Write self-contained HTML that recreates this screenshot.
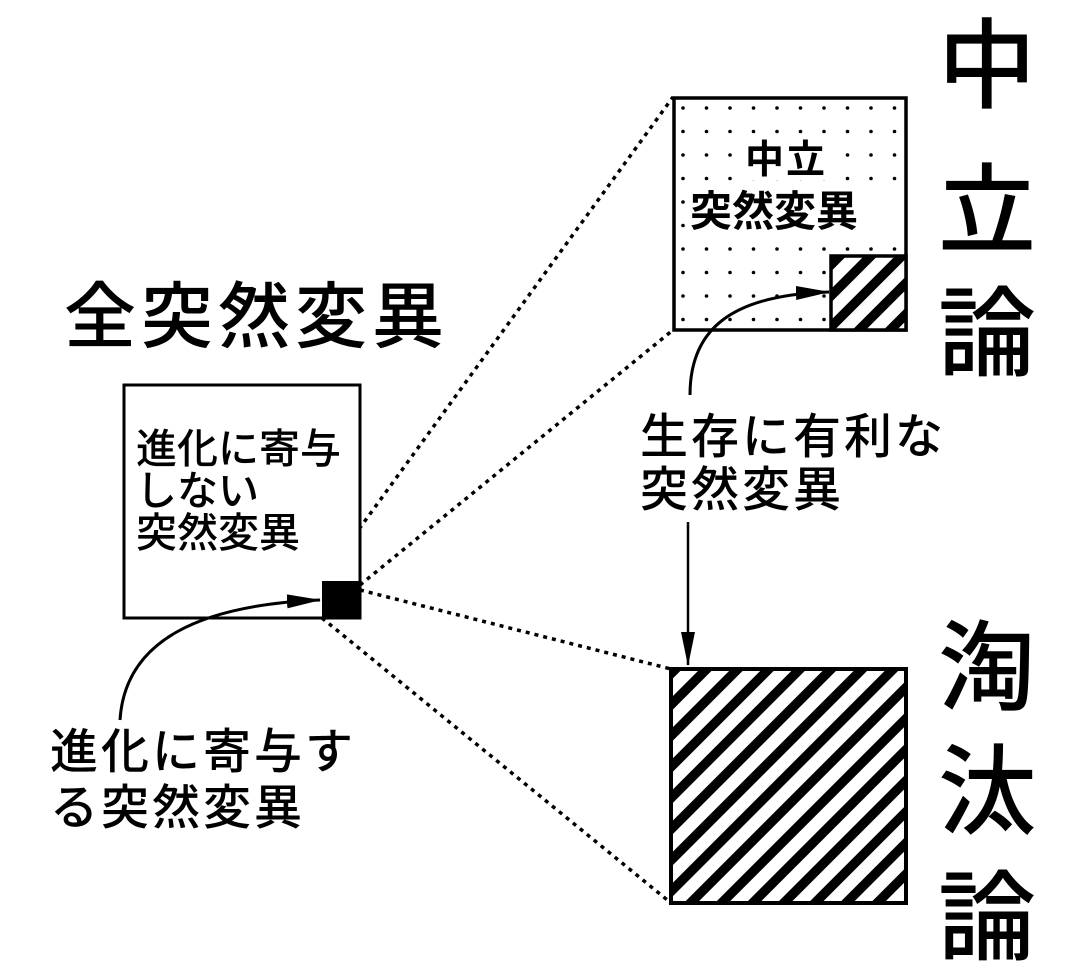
<!DOCTYPE html>
<html><head><meta charset="utf-8"><style>
html,body{margin:0;padding:0;background:#fff;}
svg text{font-family:"Liberation Sans","Noto Sans CJK JP",sans-serif;font-weight:500;fill:#000;}
</style></head><body>
<svg width="1065" height="975" viewBox="0 0 1065 975" xmlns="http://www.w3.org/2000/svg">
<defs>
<pattern id="h" patternUnits="userSpaceOnUse" width="22" height="22" patternTransform="rotate(45)">
<rect x="0" y="0" width="9.5" height="22" fill="#000"/>
</pattern>
<pattern id="d" patternUnits="userSpaceOnUse" x="680" y="105" width="23.5" height="23.5">
<circle cx="3" cy="3" r="1.8" fill="#000"/>
</pattern>
<marker id="a2" markerWidth="34" markerHeight="14" refX="33" refY="7" orient="auto" markerUnits="userSpaceOnUse">
<path d="M0,0 L34,7 L0,14 Z" fill="#000"/>
</marker>
</defs>
<g stroke="#000" stroke-width="3.5" stroke-dasharray="4,5" fill="none">
<line x1="322" y1="580" x2="673" y2="97"/>
<line x1="360" y1="585" x2="673" y2="330"/>
<line x1="360" y1="590" x2="671" y2="669"/>
<line x1="322" y1="618" x2="671" y2="903"/>
</g>
<rect x="124" y="385" width="236" height="233" fill="#fff" stroke="#000" stroke-width="3"/>
<rect x="322" y="581" width="38" height="37" fill="#000"/>
<rect x="674" y="98" width="232" height="232" fill="url(#d)" stroke="#000" stroke-width="3.5"/>
<rect x="738" y="135" width="90" height="45" fill="#fff"/>
<rect x="690" y="185" width="212" height="48" fill="#fff"/>
<rect x="831" y="256" width="75" height="74" fill="#fff"/>
<rect x="831" y="256" width="75" height="74" fill="url(#h)" stroke="#000" stroke-width="3.5"/>
<rect x="671" y="669" width="235" height="234" fill="url(#h)" stroke="#000" stroke-width="4"/>
<path d="M120 720 C125 640 200 605 320 600" stroke="#000" stroke-width="3" fill="none" marker-end="url(#a2)"/>
<path d="M690 395 C690 330 730 295 829 292" stroke="#000" stroke-width="3" fill="none" marker-end="url(#a2)"/>
<line x1="688" y1="522" x2="688" y2="665" stroke="#000" stroke-width="2.5" marker-end="url(#a2)"/>
<text x="64" y="342" font-size="72" letter-spacing="5">全突然変異</text>
<text x="136" y="463" font-size="41">進化に寄与</text>
<text x="136" y="505" font-size="41">しない</text>
<text x="136" y="547" font-size="41">突然変異</text>
<text x="745" y="173" font-size="39" letter-spacing="2" style="font-weight:bold">中立</text>
<text x="690" y="226" font-size="42" style="font-weight:bold">突然変異</text>
<text x="640" y="453" font-size="48" letter-spacing="3">生存に有利な</text>
<text x="640" y="506" font-size="48" letter-spacing="3">突然変異</text>
<text x="50" y="768" font-size="48" letter-spacing="3">進化に寄与す</text>
<text x="50" y="824" font-size="48" letter-spacing="3">る突然変異</text>
<g font-size="98">
<text x="938" y="100">中</text>
<text x="938" y="245">立</text>
<text x="938" y="368">論</text>
<text x="938" y="702">淘</text>
<text x="938" y="826">汰</text>
<text x="938" y="952">論</text>
</g>
</svg>
</body></html>
